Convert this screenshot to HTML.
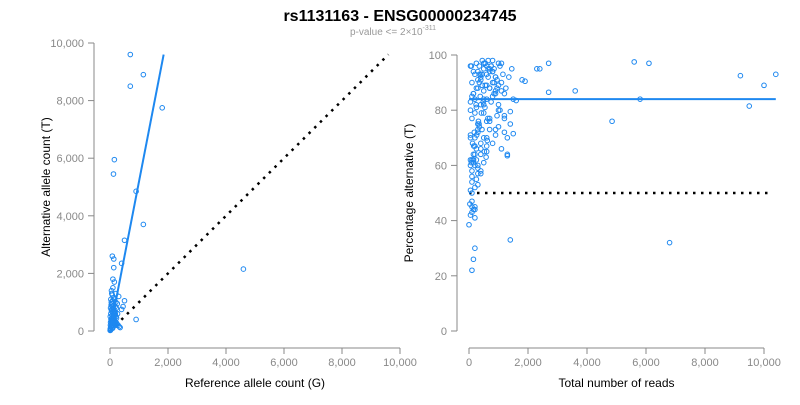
<!DOCTYPE html>
<html><head><meta charset="utf-8">
<style>
body{margin:0;background:#fff;width:800px;height:400px;overflow:hidden;font-family:"Liberation Sans",sans-serif}
svg text{font-family:"Liberation Sans",sans-serif}
</style></head>
<body>
<svg id="chart" width="800" height="400" xmlns="http://www.w3.org/2000/svg">
<text x="400" y="21" text-anchor="middle" font-size="16" font-weight="bold">rs1131163 - ENSG00000234745</text>
<text x="393" y="35" text-anchor="middle" font-size="10" fill="#999">p-value &lt;= 2×10<tspan dy="-5" font-size="7">-311</tspan></text>
<g id="left"></g>
<g id="right"></g>
</svg>
<script>
const xTicks=[0,2000,4000,6000,8000,10000];
const yTicksL=[0,2000,4000,6000,8000,10000];
const yTicksR=[0,20,40,60,80,100];
const tickLabelsX=["0","2,000","4,000","6,000","8,000","10,000"];
const tickLabelsYL=["0","2,000","4,000","6,000","8,000","10,000"];
const tickLabelsYR=["0","20","40","60","80","100"];
const refCounts=[700,1150,700,1800,150,120,900,1150,500,400,80,130,130,4600,900,500,100,150,100,200,300,450,400,50,80,120,160,200,250,60,90,140,180,220,30,70,110,150,190,260,40,60,100,130,170,20,50,80,110,140,30,60,90,120,10,40,70,100,20,50,80,15,35,55,75,95,120,140,160,180,210,240,280,320,350,30,10,20,5,25,
 45,65,85,105,125,145,165,185,205,225,
 35,55,75,95,115,135,155,175,195,215];
const altCounts=[9600,8900,8500,7750,5950,5450,4850,3700,3150,2350,2600,2500,2200,2150,400,1050,1800,1700,1500,1300,1200,850,750,1400,1250,1150,1100,1000,950,1300,1050,900,850,800,1100,950,800,700,650,600,900,750,650,600,550,800,700,550,500,450,600,450,400,350,500,350,300,250,300,250,200,200,150,150,120,100,450,400,350,300,300,250,200,150,120,50,80,30,20,60,
 1000,900,850,750,700,650,600,550,500,450,
 400,380,350,320,300,280,260,240,220,200];
const totalReads=[2700,5600,6100,3600,2700,4850,5800,9200,10000,9500,10400,6800,1400,100,150,200,0,2300,2400,1900,1800,1600,1500,1400,1300,1200,1100,1000,900,800,700,600,500,400,300,200,100,1500,1300,1100,950,850,750,650,550,450,350,250,150,50,1200,1000,900,800,700,600,500,400,300,200,100,50,1300,1200,1100,1000,900,800,700,600,500,400,300,200,150,100,1100,900,700,600,500,400,350,300,250,200,150,100,50,800,700,600,500,400,300,250,200,150,100,50,700,500,400,300,250,200,150,100,50,600,500,400,300,200,100,50,400,300,200,100,50,300,200,100,50,200,150,100,50,30,250,150,80,1000,1200,1400,600,800,900,350,450,550,650,750,850,950,1050,1150,1250,1350,1450,
 100,150,200,250,300,350,400,450,500,550,
 600,650,700,750,800,850,900,950,1000,1050,
 120,180,240,320,380,420,480,520,580,620,
 80,160,260,340,440,540,640,740,840,940];
const pctAlt=[97,97.5,97,87,86.5,76,84,92.5,89,81.5,93,32,33,22,26,30,38.5,95,95,90.5,91,83.5,71.5,79.5,64,72,87,97,92,98,95,96,97,92,88,84,85,84,70,97,91,95,96,98,97,93,90,88,86,83,78,82,86,90,94,89,87,93,91,79,77,60,63.5,86,90,80,71,68,76,70,79,82,75,67,64,62,66,92,73,76,82,68,74,60,62,64,62,58,96,94,88,84,70,64,72,66,70,61,54,71,77,84,58,73,55,60,62,50,80,67,61,57,53,45,47,62,66,57,44,43,51,59,41,45,42,52,44,56,70,46,81,94,96,89,77,75,65,85,73,93,98,89,95,83,86,88,96,93,
 88,92,95,90,86,93,97,94,96,91,
 89,95,97,93,92,88,96,94,90,87,
 78,74,80,68,72,82,76,85,79,83,
 65,63,69,61,67,71,75,73,81,77];
function lin(d0,d1,r0,r1){return v=>r0+(v-d0)*(r1-r0)/(d1-d0);}
const NS="http://www.w3.org/2000/svg";
function mk(p,tag,attrs){const e=document.createElementNS(NS,tag);for(const k in attrs)e.setAttribute(k,attrs[k]);p.appendChild(e);return e;}
function panel(g,x,y,yT,yLab,yTitle,xTitle,axX,axY){
  let a=mk(g,'line',{x1:axY,x2:axY,y1:y(yT[0]),y2:y(yT[yT.length-1]),stroke:'#888'});
  
  yT.forEach((t,i)=>{
    mk(g,'line',{x1:axY-6,x2:axY,y1:y(t),y2:y(t),stroke:'#888'});
    const tx=mk(g,'text',{x:axY-10,y:y(t)+4,'text-anchor':'end','font-size':11,fill:'#888'});tx.textContent=yLab[i];
    
  });
  a=mk(g,'line',{x1:x(0),x2:x(10000),y1:axX,y2:axX,stroke:'#888'});
  
  xTicks.forEach((t,i)=>{
    mk(g,'line',{x1:x(t),x2:x(t),y1:axX,y2:axX+6,stroke:'#888'});
    const tx=mk(g,'text',{x:x(t),y:axX+18,'text-anchor':'middle','font-size':11,fill:'#888'});tx.textContent=tickLabelsX[i];
    
  });
  let t=mk(g,'text',{x:(x(0)+x(10000))/2,y:axX+39,'text-anchor':'middle','font-size':12});t.textContent=xTitle;
  
  const cy=(y(yT[0])+y(yT[yT.length-1]))/2, cx=axY-44;
  t=mk(g,'text',{x:cx,y:cy,'text-anchor':'middle','font-size':12,transform:`rotate(-90 ${cx} ${cy})`});t.textContent=yTitle;
  
}
const gl=document.getElementById('left');
const xl=lin(0,10000,110,400), yl=lin(0,10000,331,43);
panel(gl,xl,yl,yTicksL,tickLabelsYL,'Alternative allele count (T)','Reference allele count (G)',348,94);
let d=mk(gl,'line',{x1:xl(0),y1:yl(0),x2:xl(9600),y2:yl(9600),stroke:'#000','stroke-width':2.5,'stroke-dasharray':'2.5 5.5'});

const nL=Math.min(refCounts.length,altCounts.length);
for(let i=0;i<nL;i++){const c=mk(gl,'circle',{cx:xl(refCounts[i]),cy:yl(altCounts[i]),r:2.3,fill:'none',stroke:'#1e88f0','stroke-width':1});
}
d=mk(gl,'line',{x1:xl(0),y1:yl(0),x2:xl(1850),y2:yl(9600),stroke:'#1e88f0','stroke-width':2});

const gr=document.getElementById('right');
const xr=lin(0,10000,469,764), yr=lin(0,100,331,55);
panel(gr,xr,yr,yTicksR,tickLabelsYR,'Percentage alternative (T)','Total number of reads',348,457);
d=mk(gr,'line',{x1:xr(0),y1:yr(50),x2:xr(10300),y2:yr(50),stroke:'#000','stroke-width':2.5,'stroke-dasharray':'2.5 5.5'});

const nR=Math.min(totalReads.length,pctAlt.length);
for(let i=0;i<nR;i++){const c=mk(gr,'circle',{cx:xr(totalReads[i]),cy:yr(pctAlt[i]),r:2.3,fill:'none',stroke:'#1e88f0','stroke-width':1});
}
d=mk(gr,'line',{x1:xr(0),y1:yr(84),x2:xr(10400),y2:yr(84),stroke:'#1e88f0','stroke-width':2});

</script>
</body></html>
